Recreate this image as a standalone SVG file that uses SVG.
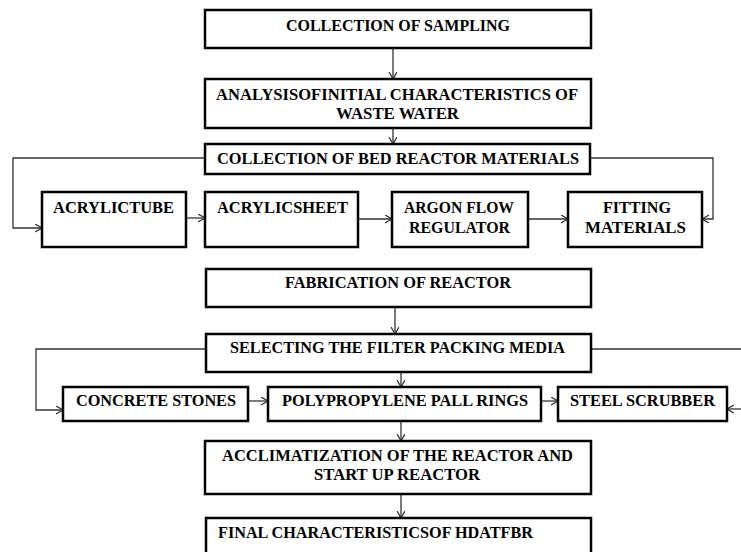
<svg xmlns="http://www.w3.org/2000/svg" width="741" height="552" viewBox="0 0 741 552">
<defs>
<marker id="ah" markerUnits="userSpaceOnUse" markerWidth="10" markerHeight="10" refX="7" refY="4" orient="auto">
<path d="M0,0 L7,4 L0,8" fill="none" stroke="#333" stroke-width="1.3"/>
</marker>
<style>
.box{fill:#fff;stroke:#000;stroke-width:2.5}
.t{font-family:"Liberation Serif","Times New Roman",serif;font-weight:bold;font-size:17.5px;fill:#000}
.c{fill:none;stroke:#333;stroke-width:1.3;marker-end:url(#ah)}
</style>
</defs>
<rect width="741" height="552" fill="#fff"/>
<g id="connectors">
<path class="c" d="M393,48 V79"/>
<path class="c" d="M393,128 V144"/>
<path class="c" d="M205,158 H13 V228 H42"/>
<path class="c" d="M590,158 H713 V219 H702"/>
<path class="c" d="M186,218 H205"/>
<path class="c" d="M358,219 H392"/>
<path class="c" d="M528,219 H568"/>
<path class="c" d="M395,307 V334"/>
<path class="c" d="M206,349 H36 V410 H63"/>
<path d="M591,349 H741" fill="none" stroke="#333" stroke-width="1.3"/>
<path class="c" d="M741,409 H727"/>
<path class="c" d="M401,372 V387"/>
<path class="c" d="M248,401 H268"/>
<path class="c" d="M541,401 H558"/>
<path class="c" d="M401,421 V441"/>
<path class="c" d="M401,494 V518"/>
</g>
<g id="n1"><rect class="box" x="205" y="10" width="386" height="38"/><text class="t" x="286" y="31" textLength="224" lengthAdjust="spacingAndGlyphs">COLLECTION OF SAMPLING</text></g>
<g id="n2"><rect class="box" x="205" y="79" width="386" height="49"/><text class="t" x="216" y="100" textLength="362" lengthAdjust="spacingAndGlyphs">ANALYSISOFINITIAL CHARACTERISTICS OF</text><text class="t" x="336" y="119" textLength="123" lengthAdjust="spacingAndGlyphs">WASTE WATER</text></g>
<g id="n3"><rect class="box" x="205" y="144" width="385" height="30"/><text class="t" x="217" y="164" textLength="362" lengthAdjust="spacingAndGlyphs">COLLECTION OF BED REACTOR MATERIALS</text></g>
<g id="n4"><rect class="box" x="42" y="192" width="144" height="55"/><text class="t" x="53" y="213" textLength="121" lengthAdjust="spacingAndGlyphs">ACRYLICTUBE</text></g>
<g id="n5"><rect class="box" x="205" y="192" width="153" height="55"/><text class="t" x="217" y="213" textLength="131" lengthAdjust="spacingAndGlyphs">ACRYLICSHEET</text></g>
<g id="n6"><rect class="box" x="392" y="192" width="136" height="55"/><text class="t" x="404" y="213" textLength="110" lengthAdjust="spacingAndGlyphs">ARGON FLOW</text><text class="t" x="409" y="233" textLength="101" lengthAdjust="spacingAndGlyphs">REGULATOR</text></g>
<g id="n7"><rect class="box" x="568" y="192" width="134" height="55"/><text class="t" x="603" y="213" textLength="68" lengthAdjust="spacingAndGlyphs">FITTING</text><text class="t" x="585" y="233" textLength="101" lengthAdjust="spacingAndGlyphs">MATERIALS</text></g>
<g id="n8"><rect class="box" x="206" y="269" width="385" height="38"/><text class="t" x="285" y="288" textLength="226" lengthAdjust="spacingAndGlyphs">FABRICATION OF REACTOR</text></g>
<g id="n9"><rect class="box" x="206" y="334" width="385" height="38"/><text class="t" x="230" y="353" textLength="335" lengthAdjust="spacingAndGlyphs">SELECTING THE FILTER PACKING MEDIA</text></g>
<g id="n10"><rect class="box" x="63" y="387" width="185" height="34"/><text class="t" x="76" y="406" textLength="160" lengthAdjust="spacingAndGlyphs">CONCRETE STONES</text></g>
<g id="n11"><rect class="box" x="268" y="387" width="273" height="34"/><text class="t" x="282" y="406" textLength="246" lengthAdjust="spacingAndGlyphs">POLYPROPYLENE PALL RINGS</text></g>
<g id="n12"><rect class="box" x="558" y="387" width="169" height="34"/><text class="t" x="570" y="406" textLength="145" lengthAdjust="spacingAndGlyphs">STEEL SCRUBBER</text></g>
<g id="n13"><rect class="box" x="205" y="441" width="386" height="53"/><text class="t" x="222" y="461" textLength="351" lengthAdjust="spacingAndGlyphs">ACCLIMATIZATION OF THE REACTOR AND</text><text class="t" x="314" y="480" textLength="166" lengthAdjust="spacingAndGlyphs">START UP REACTOR</text></g>
<g id="n14"><rect class="box" x="206" y="518" width="385" height="50"/><text class="t" x="218" y="538" textLength="315" lengthAdjust="spacingAndGlyphs">FINAL CHARACTERISTICSOF HDATFBR</text></g>
</svg>
